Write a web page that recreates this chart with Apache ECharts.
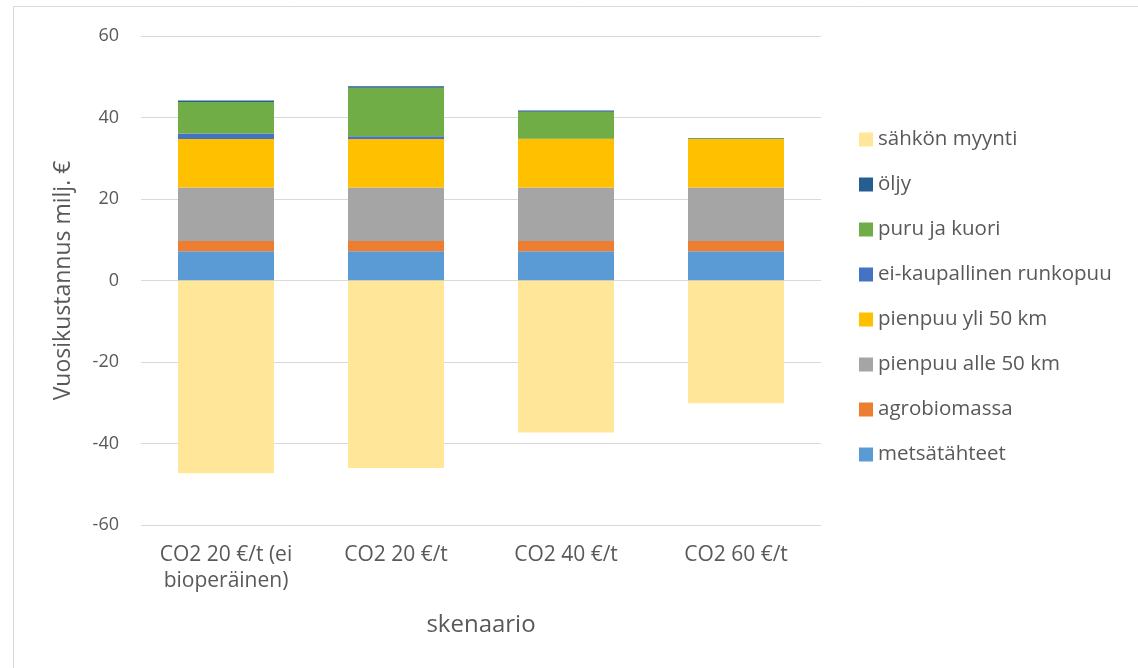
<!DOCTYPE html>
<html>
<head>
<meta charset="utf-8">
<script src="https://cdn.jsdelivr.net/npm/echarts@6/dist/echarts.min.js"></script>
<style>
  html, body { margin: 0; padding: 0; background: #fff; }
  #chart { width: 1138px; height: 668px; }
</style>
</head>
<body>
<div id="chart"></div>
<script>
// Skenaariot
const categories = ['CO2 20 €/t (ei\nbioperäinen)', 'CO2 20 €/t', 'CO2 40 €/t', 'CO2 60 €/t'];

// Vuosikustannus, milj. € (kustannuserät pinottuina, tulot negatiivisina)
const metsatahteet     = [7.2, 7.2, 7.2, 7.2];
const agrobiomassa     = [2.5, 2.5, 2.5, 2.5];
const pienpuuAlle50    = [13.1, 13.1, 13.1, 13.1];
const pienpuuYli50     = [11.9, 11.9, 11.9, 11.9];
const eiKaupallinen    = [1.4, 0.7, 0.1, 0.0];
const puruJaKuori      = [7.7, 11.9, 6.6, 0.15];
const oljy             = [0.35, 0.35, 0.3, 0.1];
const sahkonMyynti     = [-47.3, -46.0, -37.3, -30.1];

const yTicks = { min: -60, max: 60, interval: 20 };

const seriesDefs = [
  { name: 'metsätähteet', data: metsatahteet, color: '#5B9BD5' },
  { name: 'agrobiomassa', data: agrobiomassa, color: '#ED7D31' },
  { name: 'pienpuu alle 50 km', data: pienpuuAlle50, color: '#A5A5A5' },
  { name: 'pienpuu yli 50 km', data: pienpuuYli50, color: '#FFC000' },
  { name: 'ei-kaupallinen runkopuu', data: eiKaupallinen, color: '#4472C4' },
  { name: 'puru ja kuori', data: puruJaKuori, color: '#70AD47' },
  { name: 'öljy', data: oljy, color: '#255E91' },
  { name: 'sähkön myynti', data: sahkonMyynti, color: '#FFE699' }
];

const txt = '#595959';
const fontFamily = '"Open Sans", "Noto Sans", sans-serif';

const chart = echarts.init(document.getElementById('chart'), null, { renderer: 'canvas' });

chart.setOption({
  animation: false,
  backgroundColor: '#ffffff',
  textStyle: { fontFamily: fontFamily, color: txt },
  graphic: [{
    type: 'rect',
    shape: { x: 13.5, y: 6.5, width: 1200, height: 700 },
    style: { fill: 'none', stroke: '#d9d9d9', lineWidth: 1 },
    silent: true
  }],
  grid: { left: 141, right: 317, top: 36, bottom: 143 },
  legend: {
    orient: 'vertical',
    left: 854,
    top: 124,
    itemWidth: 14,
    itemHeight: 14,
    itemGap: 24,
    icon: 'rect',
    textStyle: { fontSize: 20.5, color: txt, fontFamily: fontFamily },
    data: seriesDefs.map(s => s.name).reverse()
  },
  xAxis: {
    type: 'category',
    data: categories,
    axisLine: { show: false },
    axisTick: { show: false },
    axisLabel: {
      interval: 0,
      hideOverlap: false,
      fontSize: 21,
      color: txt,
      lineHeight: 26,
      margin: 17,
      fontFamily: fontFamily
    },
    name: 'skenaario',
    nameLocation: 'middle',
    nameGap: 88,
    nameTextStyle: { fontSize: 24, color: txt, fontFamily: fontFamily }
  },
  yAxis: {
    type: 'value',
    min: yTicks.min,
    max: yTicks.max,
    interval: yTicks.interval,
    axisLine: { show: false },
    axisTick: { show: false },
    splitLine: { lineStyle: { color: '#d9d9d9', width: 1 } },
    axisLabel: { fontSize: 18, color: txt, margin: 22, fontFamily: fontFamily },
    name: 'Vuosikustannus milj. €',
    nameLocation: 'middle',
    nameGap: 66,
    nameRotate: 90,
    nameTextStyle: { fontSize: 23, color: txt, fontFamily: fontFamily }
  },
  series: seriesDefs.map(s => ({
    name: s.name,
    type: 'bar',
    stack: 'kustannus',
    barWidth: 96,
    data: s.data,
    itemStyle: { color: s.color },
    emphasis: { disabled: true }
  }))
});
</script>
</body>
</html>
